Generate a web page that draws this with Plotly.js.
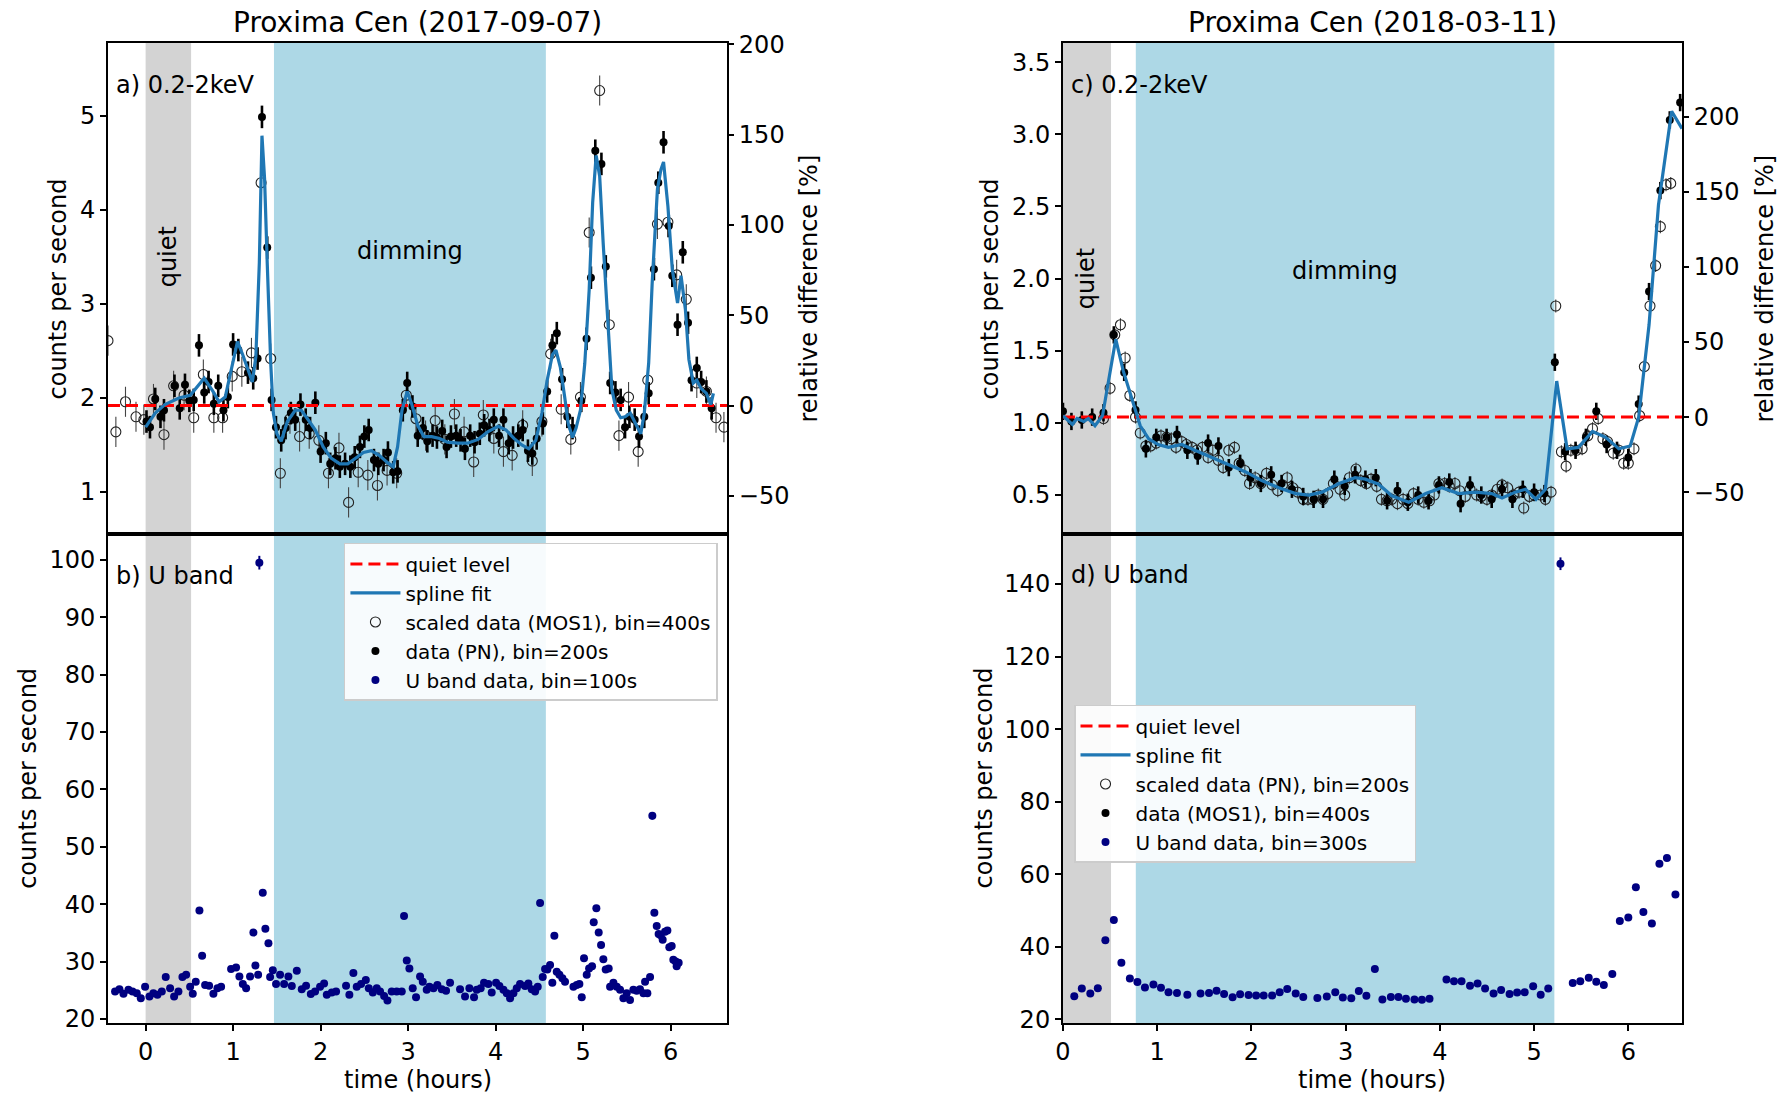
<!DOCTYPE html>
<html>
<head>
<meta charset="utf-8">
<script src="https://cdn.plot.ly/plotly-3.0.1.min.js"></script>
<style>
html,body{margin:0;padding:0;background:#fff;}
#chart{width:1782px;height:1094px;}
</style>
</head>
<body>
<div id="chart"></div>
<script>
// ---------------- DATA: Proxima Cen (2017-09-07) ----------------
const quietA = 1.92;
const xRangeA = [-0.43, 6.646];
const quietBandA = [0.0, 0.52];
const dimmingBandA = [1.467, 4.575];

// data (PN), bin=200s  (filled)
const pnA_t = [0.01,0.05,0.11,0.17,0.21,0.33,0.39,0.45,0.50,0.55,0.61,0.67,0.72,0.78,0.83,0.89,0.94,1.00,1.06,1.17,1.23,1.28,1.33,1.39,1.44,1.49,1.55,1.60,1.66,1.71,1.77,1.83,1.88,1.94,2.00,2.06,2.11,2.17,2.22,2.28,2.34,2.39,2.45,2.50,2.55,2.61,2.66,2.72,2.77,2.83,2.88,2.94,2.99,3.05,3.11,3.17,3.22,3.28,3.33,3.39,3.44,3.49,3.55,3.60,3.65,3.71,3.76,3.82,3.87,3.93,3.98,4.04,4.09,4.15,4.20,4.26,4.31,4.37,4.42,4.47,4.54,4.59,4.65,4.70,4.76,4.82,4.88,4.98,5.04,5.09,5.14,5.21,5.26,5.31,5.37,5.43,5.48,5.53,5.59,5.64,5.70,5.75,5.81,5.86,5.92,5.98,6.02,6.08,6.14,6.20,6.24,6.30,6.35,6.41,6.47];
const pnA_y = [1.75,1.69,1.99,1.80,1.87,2.13,1.89,2.14,1.97,1.98,2.56,2.06,2.17,1.94,2.13,1.87,2.01,2.57,2.51,2.27,2.21,2.42,4.99,3.60,1.98,1.69,1.55,1.68,1.84,1.77,1.93,1.77,1.68,1.95,1.43,1.52,1.30,1.36,1.27,1.30,1.27,1.37,1.48,1.59,1.66,1.34,1.30,1.34,1.42,1.21,1.22,1.87,2.16,1.91,1.60,1.68,1.54,1.60,1.58,1.65,1.48,1.59,1.60,1.55,1.46,1.60,1.53,1.62,1.71,1.66,1.77,1.60,1.77,1.52,1.58,1.60,1.66,1.44,1.41,1.57,1.73,2.07,2.56,2.69,2.20,1.80,1.68,1.97,2.63,3.28,4.63,4.49,3.40,2.16,2.06,1.98,1.69,1.80,1.77,1.59,1.80,2.05,3.37,4.29,4.72,3.83,3.30,2.78,3.55,2.80,2.19,2.32,2.17,2.07,1.89];
const pnA_err = 0.12;

// scaled data (MOS1), bin=400s  (open)
const mosA_t = [-0.43,-0.34,-0.23,-0.11,-0.02,0.09,0.21,0.32,0.44,0.55,0.66,0.78,0.88,0.99,1.10,1.21,1.32,1.43,1.54,1.65,1.76,1.87,1.98,2.09,2.21,2.32,2.43,2.54,2.65,2.76,2.87,2.98,3.09,3.20,3.31,3.42,3.53,3.64,3.75,3.86,3.98,4.09,4.19,4.31,4.42,4.53,4.63,4.75,4.86,4.97,5.07,5.19,5.30,5.41,5.52,5.63,5.74,5.85,5.97,6.07,6.18,6.30,6.41,6.52,6.61];
const mosA_y = [2.61,1.64,1.96,1.80,1.77,1.99,1.61,2.13,2.03,1.79,2.25,1.79,1.79,2.23,2.28,2.48,4.29,2.42,1.20,1.78,1.59,1.62,1.55,1.20,1.47,0.89,1.21,1.18,1.07,1.23,1.20,2.03,1.78,1.60,1.76,1.56,1.83,1.64,1.32,1.82,1.57,1.43,1.39,1.71,1.33,1.75,2.47,1.88,1.56,2.01,3.76,5.27,2.78,1.60,2.01,1.43,2.19,3.85,3.87,3.31,3.05,2.16,2.07,1.79,1.69];
const mosA_err = 0.16;

// spline fit
const splA_t = [0.0,0.11,0.22,0.38,0.51,0.59,0.67,0.77,0.84,0.91,0.98,1.05,1.11,1.17,1.22,1.26,1.30,1.33,1.36,1.39,1.43,1.46,1.50,1.55,1.62,1.71,1.78,1.85,1.94,2.03,2.12,2.22,2.31,2.40,2.49,2.58,2.67,2.77,2.83,2.88,2.93,2.99,3.04,3.11,3.18,3.27,3.36,3.45,3.57,3.68,3.80,3.91,4.03,4.12,4.21,4.30,4.38,4.46,4.53,4.59,4.65,4.69,4.74,4.79,4.83,4.88,4.92,4.97,5.02,5.07,5.11,5.15,5.19,5.23,5.28,5.33,5.38,5.43,5.48,5.54,5.60,5.66,5.70,5.75,5.79,5.85,5.89,5.92,5.97,6.02,6.08,6.12,6.17,6.21,6.26,6.30,6.35,6.41,6.46,6.49];
const splA_y = [1.69,1.84,1.93,2.00,2.03,2.12,2.21,2.07,1.96,2.01,2.30,2.60,2.46,2.30,2.17,2.44,3.44,4.79,4.33,3.44,2.37,1.84,1.62,1.54,1.75,1.87,1.87,1.78,1.66,1.48,1.36,1.30,1.30,1.36,1.42,1.44,1.39,1.31,1.27,1.48,1.87,2.07,1.94,1.71,1.59,1.59,1.57,1.53,1.52,1.52,1.56,1.64,1.70,1.66,1.57,1.50,1.46,1.55,1.84,2.19,2.46,2.51,2.33,2.01,1.73,1.58,1.68,1.87,2.37,3.15,4.08,4.58,4.36,3.65,2.80,2.09,1.87,1.79,1.80,1.84,1.73,1.62,1.84,2.37,3.22,4.22,4.43,4.51,4.04,3.37,3.01,3.30,2.94,2.41,2.16,2.19,2.10,2.05,1.93,2.05];

// U band data, bin=100s
const uA_t = [-0.349,-0.299,-0.253,-0.196,-0.150,-0.101,-0.055,-0.006,0.044,0.089,0.135,0.185,0.230,0.280,0.326,0.375,0.421,0.463,0.509,0.539,0.573,0.615,0.646,0.680,0.726,0.775,0.821,0.863,0.977,1.034,1.072,1.111,1.149,1.194,1.232,1.255,1.286,1.30,1.339,1.369,1.404,1.423,1.454,1.491,1.537,1.583,1.632,1.671,1.728,1.785,1.834,1.888,1.937,1.994,2.040,2.071,2.128,2.177,2.291,2.329,2.375,2.413,2.463,2.517,2.551,2.597,2.642,2.680,2.726,2.764,2.813,2.870,2.928,2.954,2.985,3.015,
  3.053,3.091,3.137,3.168,3.213,3.244,3.290,3.335,3.385,3.434,3.480,3.594,3.651,3.701,3.754,3.785,3.830,3.868,3.918,3.956,4.006,4.044,4.090,4.128,4.166,4.204,4.242,4.280,4.337,4.375,4.413,4.452,4.482,4.509,4.539,4.566,4.592,4.623,4.649,4.672,4.699,4.730,4.764,4.794,4.890,4.928,4.958,4.985,5.011,5.042,5.069,5.103,5.122,5.152,5.179,5.206,5.232,5.259,5.293,5.309,5.347,5.385,5.423,5.461,5.499,5.537,5.575,5.613,5.651,5.690,5.709,5.735,5.766,5.792,5.815,5.842,5.864,5.887,5.910,5.937,5.964,5.986,6.013,6.032,6.059,6.070,6.093];
const uA_y = [24.8,25.2,24.4,25.1,24.8,24.5,23.6,25.6,23.9,24.5,24.2,24.8,27.3,25.35,23.9,24.8,27.3,27.7,25.6,24.4,26.5,38.9,31.0,25.9,25.8,24.4,25.35,25.6,28.7,28.95,27.4,26.1,25.35,27.4,35.05,29.3,27.7,99.5,42.0,35.7,33.2,27.3,28.5,26.1,27.7,26.1,27.4,25.75,28.4,25.2,25.8,24.35,24.8,25.6,26.2,24.2,24.6,24.8,25.8,24.2,28.0,25.6,26.1,26.8,25.35,24.6,25.35,24.8,24.0,23.2,24.8,24.8,24.8,37.95,30.2,28.8,
  25.35,23.8,27.4,26.5,25.1,25.6,25.35,25.9,25.2,24.9,26.3,25.2,23.9,25.35,23.8,25.1,25.35,26.3,26.1,24.6,26.3,25.75,25.1,24.5,23.6,24.5,25.35,26.1,25.75,26.2,25.2,24.8,25.6,40.2,27.3,28.7,28.6,29.4,26.3,34.5,28.25,27.7,27.1,26.5,25.6,25.9,26.1,23.8,30.6,27.7,28.8,29.2,36.85,39.3,35.05,32.9,30.4,28.6,28.8,25.6,26.3,25.6,25.1,23.6,24.5,23.3,25.1,24.9,25.2,24.5,26.5,24.5,27.3,55.4,38.5,36.2,34.8,34.6,33.8,35.2,35.4,32.5,32.7,30.3,30.0,29.2,29.8];

// ---------------- DATA: Proxima Cen (2018-03-11) ----------------
const quietC = 1.04;
const xRangeC = [0, 6.57];
const quietBandC = [0.0, 0.51];
const dimmingBandC = [0.773, 5.215];

// data (MOS1), bin=400s  (filled)
const mosC_t = [0.0,0.09,0.20,0.31,0.43,0.54,0.65,0.77,0.88,0.99,1.10,1.21,1.32,1.43,1.54,1.65,1.76,1.88,1.99,2.10,2.21,2.32,2.43,2.55,2.66,2.76,2.88,2.99,3.10,3.21,3.32,3.44,3.55,3.66,3.77,3.88,3.99,4.10,4.22,4.32,4.44,4.55,4.66,4.77,4.88,5.00,5.11,5.22,5.33,5.44,5.55,5.66,5.77,5.88,6.00,6.11,6.22,6.34,6.44,6.55];
const mosC_y = [1.08,1.01,1.02,1.04,1.07,1.61,1.35,1.09,0.82,0.90,0.90,0.92,0.81,0.77,0.86,0.84,0.69,0.72,0.62,0.58,0.64,0.58,0.54,0.49,0.47,0.47,0.61,0.56,0.64,0.61,0.62,0.46,0.53,0.45,0.50,0.46,0.57,0.59,0.44,0.57,0.50,0.47,0.54,0.47,0.54,0.52,0.51,1.42,0.80,0.81,0.90,1.08,0.85,0.81,0.76,1.13,1.91,2.61,3.10,3.22];
const mosC_err = 0.06;

// scaled data (PN), bin=200s  (open)
const pnC_t = [0.43,0.50,0.55,0.61,0.66,0.71,0.77,0.82,0.88,0.93,0.99,1.04,1.10,1.15,1.20,1.26,1.31,1.37,1.42,1.48,1.54,1.59,1.65,1.70,1.76,1.82,1.87,1.93,1.98,2.04,2.10,2.16,2.22,2.28,2.33,2.38,2.44,2.49,2.55,2.60,2.65,2.71,2.76,2.81,2.87,2.94,2.99,3.04,3.11,3.16,3.22,3.27,3.33,3.38,3.44,3.49,3.55,3.61,3.66,3.72,3.77,3.83,3.89,3.94,3.99,4.05,4.10,4.16,4.21,4.27,4.32,4.39,4.44,4.50,4.55,4.61,4.66,4.72,4.78,4.84,4.89,4.95,5.00,5.07,5.12,5.18,5.23,5.29,5.34,5.39,5.45,5.51,5.57,5.62,5.68,5.73,5.78,5.84,5.90,5.95,6.00,6.06,6.12,6.17,6.23,6.29,6.34,6.40,6.45];
const pnC_y = [1.03,1.24,1.61,1.68,1.45,1.19,1.04,0.93,0.84,0.84,0.86,0.91,0.90,0.89,0.83,0.87,0.85,0.83,0.81,0.83,0.76,0.81,0.74,0.69,0.81,0.83,0.72,0.67,0.58,0.62,0.58,0.65,0.57,0.53,0.57,0.62,0.55,0.52,0.47,0.47,0.47,0.50,0.47,0.51,0.58,0.54,0.50,0.62,0.68,0.60,0.58,0.61,0.56,0.47,0.46,0.47,0.44,0.47,0.44,0.51,0.47,0.45,0.46,0.50,0.58,0.58,0.56,0.58,0.53,0.49,0.54,0.50,0.49,0.47,0.50,0.54,0.57,0.55,0.50,0.52,0.41,0.49,0.50,0.50,0.47,0.52,1.81,0.80,0.70,0.81,0.81,0.82,0.91,0.96,1.03,0.89,0.87,0.79,0.81,0.72,0.72,0.82,1.05,1.39,1.81,2.09,2.36,2.65,2.66];
const pnC_err = 0.045;

// spline fit
const splC_t = [0.00,0.10,0.15,0.22,0.27,0.34,0.42,0.47,0.56,0.64,0.73,0.82,0.91,1.01,1.12,1.26,1.40,1.58,1.76,1.94,2.11,2.29,2.47,2.61,2.75,2.93,3.10,3.21,3.35,3.49,3.67,3.85,4.02,4.20,4.38,4.55,4.66,4.80,4.91,5.02,5.12,5.24,5.35,5.47,5.62,5.76,5.90,6.02,6.11,6.22,6.32,6.41,6.46,6.57];
const splC_y = [1.05,0.99,1.03,1.01,1.03,0.98,1.05,1.24,1.58,1.36,1.17,0.98,0.89,0.85,0.83,0.85,0.81,0.76,0.71,0.66,0.60,0.55,0.51,0.50,0.52,0.58,0.62,0.61,0.575,0.495,0.45,0.51,0.55,0.51,0.52,0.51,0.48,0.52,0.54,0.47,0.54,1.29,0.82,0.83,0.94,0.90,0.82,0.84,1.04,1.68,2.51,2.92,3.16,3.04];

// U band data, bin=300s
const uD_t = [0.12,0.20,0.29,0.37,0.45,0.54,0.62,0.71,0.79,0.87,0.96,1.04,1.12,1.21,1.32,1.46,1.55,1.63,1.71,1.80,1.88,1.97,2.05,2.13,2.22,2.30,2.38,2.47,2.55,2.70,2.80,2.89,2.97,3.06,3.14,3.22,3.31,3.39,3.48,3.56,3.64,3.73,3.81,3.89,4.07,4.15,4.23,4.32,4.40,4.48,4.57,4.65,4.74,4.82,4.90,4.99,5.07,5.15,5.28,5.41,5.49,5.58,5.66,5.74,5.83,5.91,6.00,6.08,6.16,6.25,6.33,6.41,6.50];
const uD_y = [26.4,28.5,27.1,28.6,41.8,47.4,35.6,31.3,30.3,28.8,29.6,28.7,27.5,27.3,26.8,27.1,27.3,27.9,27.0,26.1,26.9,26.7,26.6,26.6,26.6,27.5,28.4,27.1,26.2,25.9,26.3,27.5,26.0,25.8,27.8,26.5,33.9,25.5,26.2,26.2,25.7,25.5,25.4,25.7,31.0,30.5,30.5,29.3,29.9,28.5,27.1,28.1,27.0,27.4,27.5,29.1,26.8,28.5,145.6,30.0,30.5,31.5,30.4,29.5,32.5,47.1,48.1,56.4,49.6,46.4,62.9,64.5,54.4];

// axis ranges / ticks
const yRangeA = [0.554, 5.776];
const yRangeB = [19.3, 104.5];
const yRangeC = [0.23, 3.633];
const yRangeD = [19.0, 153.8];
const relTicks = [-50, 0, 50, 100, 150, 200];
const hourTicks = [0, 1, 2, 3, 4, 5, 6];

// ---------------- STYLE ----------------
const FONT = 'DejaVu Sans, Verdana, sans-serif';
const domL = [0.0606, 0.408], domR = [0.5965, 0.9439];
const domTop = [0.5119, 0.9607], domBot = [0.0649, 0.5119];
const toRel = (v, q) => (v / q - 1) * 100;

function openTrace(x, y, err, xa, ya, name, leg) {
  return {x, y, xaxis: xa, yaxis: ya, type: 'scatter', mode: 'markers', name, legend: leg, legendrank: 3,
    marker: {symbol: 'circle-open', size: 10, color: '#222', line: {width: 1.1}},
    error_y: {type: 'constant', value: err, color: '#444', thickness: 1.1, width: 0}, hoverinfo: 'skip'};
}
function filledTrace(x, y, err, xa, ya, name, leg) {
  return {x, y, xaxis: xa, yaxis: ya, type: 'scatter', mode: 'markers', name, legend: leg, legendrank: 4,
    marker: {symbol: 'circle', size: 8, color: '#000'},
    error_y: {type: 'constant', value: err, color: '#000', thickness: 2.6, width: 0}, hoverinfo: 'skip'};
}
function quietTrace(xr, q, xa, ya, leg) {
  return {x: xr, y: [q, q], xaxis: xa, yaxis: ya, type: 'scatter', mode: 'lines', name: 'quiet level',
    legend: leg, legendrank: 1, line: {color: 'red', width: 3, dash: '12px,6px'}, hoverinfo: 'skip'};
}
function splineTrace(x, y, xa, ya, leg) {
  return {x, y, xaxis: xa, yaxis: ya, type: 'scatter', mode: 'lines', name: 'spline fit',
    legend: leg, legendrank: 2, line: {color: '#1f77b4', width: 3.2}, hoverinfo: 'skip'};
}
function uTrace(x, y, xa, ya, name, leg) {
  return {x, y, xaxis: xa, yaxis: ya, type: 'scatter', mode: 'markers', name, legend: leg, legendrank: 5,
    marker: {size: 8, color: '#000080'},
    error_y: {type: 'percent', value: 1.2, color: '#000080', thickness: 2, width: 0}, hoverinfo: 'skip'};
}
function relAnchor(xr, xa, ya) {
  return {x: xr, y: [0, 0], xaxis: xa, yaxis: ya, type: 'scatter', mode: 'lines', showlegend: false,
    line: {width: 0, color: 'rgba(0,0,0,0)'}, hoverinfo: 'skip'};
}

const traces = [
  openTrace(mosA_t, mosA_y, mosA_err, 'x2', 'y2', 'scaled data (MOS1), bin=400s', 'legend'),
  filledTrace(pnA_t, pnA_y, pnA_err, 'x2', 'y2', 'data (PN), bin=200s', 'legend'),
  quietTrace(xRangeA, quietA, 'x2', 'y2', 'legend'),
  splineTrace(splA_t, splA_y, 'x2', 'y2', 'legend'),
  relAnchor(xRangeA, 'x2', 'y3'),
  uTrace(uA_t, uA_y, 'x', 'y', 'U band data, bin=100s', 'legend'),
  openTrace(pnC_t, pnC_y, pnC_err, 'x4', 'y5', 'scaled data (PN), bin=200s', 'legend2'),
  filledTrace(mosC_t, mosC_y, mosC_err, 'x4', 'y5', 'data (MOS1), bin=400s', 'legend2'),
  quietTrace(xRangeC, quietC, 'x4', 'y5', 'legend2'),
  splineTrace(splC_t, splC_y, 'x4', 'y5', 'legend2'),
  relAnchor(xRangeC, 'x4', 'y6'),
  uTrace(uD_t, uD_y, 'x3', 'y4', 'U band data, bin=300s', 'legend2')
];

const axBase = {
  showgrid: false, zeroline: false, showline: true, linecolor: '#000', linewidth: 2,
  ticks: 'outside', ticklen: 6, tickwidth: 2, tickcolor: '#000',
  tickfont: {family: FONT, size: 24, color: '#000'}, mirror: true
};
const ax = (o) => Object.assign({}, axBase, o);

function band(xr, color, xref) {
  return {type: 'rect', xref: xref, yref: 'paper', x0: xr[0], x1: xr[1], y0: domBot[0], y1: domTop[1],
    fillcolor: color, line: {width: 0}, layer: 'below'};
}

const txt = (o) => Object.assign({showarrow: false, xanchor: 'center', yanchor: 'middle',
  font: {family: FONT, size: 24, color: '#000'}}, o);

const layout = {
  width: 1782, height: 1094,
  margin: {l: 0, r: 0, t: 0, b: 0},
  paper_bgcolor: '#fff', plot_bgcolor: 'rgba(0,0,0,0)',
  font: {family: FONT, color: '#000'},
  showlegend: true,
  xaxis: ax({domain: domL, range: xRangeA, anchor: 'y', tickvals: hourTicks}),
  yaxis: ax({domain: domBot, range: yRangeB, anchor: 'x', tick0: 20, dtick: 10}),
  xaxis2: ax({domain: domL, range: xRangeA, anchor: 'y2', matches: 'x', showticklabels: false, ticks: ''}),
  yaxis2: ax({domain: domTop, range: yRangeA, anchor: 'x2', tick0: 1, dtick: 1}),
  yaxis3: ax({overlaying: 'y2', side: 'right', anchor: 'x2', range: [toRel(yRangeA[0], quietA), toRel(yRangeA[1], quietA)],
    tickvals: relTicks, ticktext: relTicks.map(v => v < 0 ? '\u2212' + Math.abs(v) : String(v)), showline: false, mirror: false}),
  xaxis3: ax({domain: domR, range: xRangeC, anchor: 'y4', tickvals: hourTicks}),
  yaxis4: ax({domain: domBot, range: yRangeD, anchor: 'x3', tick0: 20, dtick: 20}),
  xaxis4: ax({domain: domR, range: xRangeC, anchor: 'y5', matches: 'x3', showticklabels: false, ticks: ''}),
  yaxis5: ax({domain: domTop, range: yRangeC, anchor: 'x4', tick0: 0.5, dtick: 0.5, tickformat: '.1f'}),
  yaxis6: ax({overlaying: 'y5', side: 'right', anchor: 'x4', range: [toRel(yRangeC[0], quietC), toRel(yRangeC[1], quietC)],
    tickvals: relTicks, ticktext: relTicks.map(v => v < 0 ? '\u2212' + Math.abs(v) : String(v)), showline: false, mirror: false}),
  shapes: [
    band(quietBandA, '#d3d3d3', 'x'), band(dimmingBandA, '#add8e6', 'x'),
    band(quietBandC, '#d3d3d3', 'x3'), band(dimmingBandC, '#add8e6', 'x3')
  ],
  legend: {x: 0.193, y: 0.5037, xanchor: 'left', yanchor: 'top', bgcolor: 'rgba(255,255,255,0.9)',
    bordercolor: '#cccccc', borderwidth: 1.5, font: {family: FONT, size: 20, color: '#000'},
    tracegroupgap: 0, itemwidth: 50, traceorder: 'normal'},
  legend2: {x: 0.6027, y: 0.3556, xanchor: 'left', yanchor: 'top', bgcolor: 'rgba(255,255,255,0.9)',
    bordercolor: '#cccccc', borderwidth: 1.5, font: {family: FONT, size: 20, color: '#000'},
    tracegroupgap: 0, itemwidth: 50, traceorder: 'normal'},
  annotations: [
    txt({text: 'Proxima Cen (2017-09-07)', xref: 'paper', yref: 'paper', x: 0.2343, y: 0.9793, font: {family: FONT, size: 28, color: '#000'}}),
    txt({text: 'Proxima Cen (2018-03-11)', xref: 'paper', yref: 'paper', x: 0.7702, y: 0.9793, font: {family: FONT, size: 28, color: '#000'}}),
    txt({text: 'counts per second', xref: 'paper', yref: 'paper', x: 0.0331, y: 0.7363, textangle: -90}),
    txt({text: 'counts per second', xref: 'paper', yref: 'paper', x: 0.0159, y: 0.2884, textangle: -90}),
    txt({text: 'relative difference [%]', xref: 'paper', yref: 'paper', x: 0.454, y: 0.7363, textangle: -90}),
    txt({text: 'counts per second', xref: 'paper', yref: 'paper', x: 0.5561, y: 0.7363, textangle: -90}),
    txt({text: 'counts per second', xref: 'paper', yref: 'paper', x: 0.5522, y: 0.2884, textangle: -90}),
    txt({text: 'relative difference [%]', xref: 'paper', yref: 'paper', x: 0.9905, y: 0.7363, textangle: -90}),
    txt({text: 'time (hours)', xref: 'paper', yref: 'paper', x: 0.2343, y: 0.0131}),
    txt({text: 'time (hours)', xref: 'paper', yref: 'paper', x: 0.7702, y: 0.0131}),
    txt({text: 'a) 0.2-2keV', xref: 'paper', yref: 'paper', x: 0.064, y: 0.9223, xanchor: 'left'}),
    txt({text: 'b) U band', xref: 'paper', yref: 'paper', x: 0.064, y: 0.4735, xanchor: 'left'}),
    txt({text: 'c) 0.2-2keV', xref: 'paper', yref: 'paper', x: 0.6, y: 0.9223, xanchor: 'left'}),
    txt({text: 'd) U band', xref: 'paper', yref: 'paper', x: 0.6, y: 0.4743, xanchor: 'left'}),
    txt({text: 'quiet', xref: 'x2', yref: 'y2', x: 0.26, y: 3.5, textangle: -90}),
    txt({text: 'dimming', xref: 'x2', yref: 'y2', x: 3.02, y: 3.56}),
    txt({text: 'quiet', xref: 'x4', yref: 'y5', x: 0.24, y: 2.0, textangle: -90}),
    txt({text: 'dimming', xref: 'x4', yref: 'y5', x: 2.99, y: 2.05})
  ]
};

Plotly.newPlot('chart', traces, layout, {displayModeBar: false, staticPlot: true});
</script>
</body>
</html>
